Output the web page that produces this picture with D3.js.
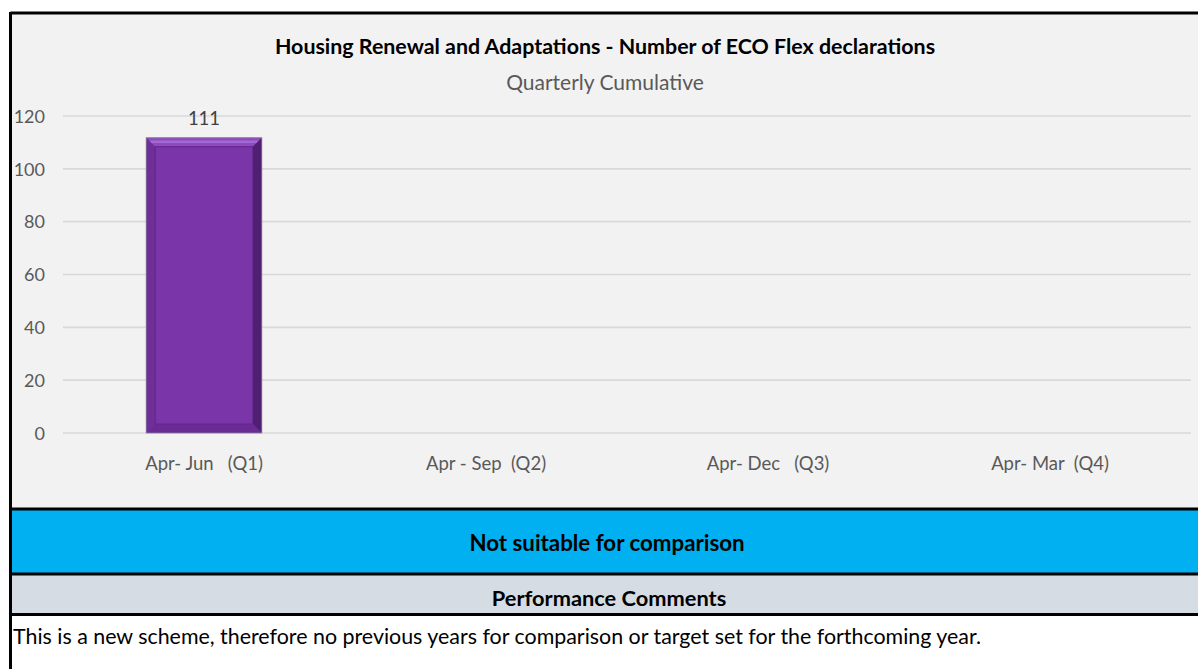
<!DOCTYPE html>
<html><head><meta charset="utf-8">
<script src="https://cdn.jsdelivr.net/npm/d3@7"></script>
<style>
html,body{margin:0;padding:0;background:#fff;}
svg{display:block;font-family:Lato,"Open Sans",sans-serif;}
</style></head>
<body>
<svg id="c" width="1198" height="669"></svg>
<script>
const categories = ["Apr- Jun   (Q1)", "Apr - Sep  (Q2)", "Apr- Dec   (Q3)", "Apr- Mar  (Q4)"];
const values = [111, null, null, null];
const yTicks = [0, 20, 40, 60, 80, 100, 120];
const title = "Housing Renewal and Adaptations - Number of ECO Flex declarations";
const subtitle = "Quarterly Cumulative";
const statusText = "Not suitable for comparison";
const commentsHeader = "Performance Comments";
const commentText = "This is a new scheme, therefore no previous years for comparison or target set for the forthcoming year.";

const svg = d3.select("#c");
const W = 1198, H = 669;
const L = 10.5;

// chart background
svg.append("rect").attr("x", L).attr("y", 13).attr("width", W).attr("height", 496).attr("fill", "#f2f2f2");

const x = d3.scaleBand().domain(categories).range([63, 1191]).paddingInner(0.59).paddingOuter(0.295);
const y = d3.scaleLinear().domain([0, 120]).range([433, 116]);

// gridlines
svg.append("g").selectAll("line").data(yTicks).join("line")
  .attr("x1", 63).attr("x2", 1191)
  .attr("y1", d => y(d)).attr("y2", d => y(d))
  .attr("stroke", "#d9d9d9").attr("stroke-width", 1.6);

// y axis labels
const yAxis = d3.axisLeft(y).tickValues(yTicks).tickSize(0).tickPadding(0);
const ya = svg.append("g").attr("transform", "translate(45,0)").call(yAxis);
ya.select(".domain").remove();
ya.selectAll("text").attr("font-size", 18).attr("fill", "#595959").attr("font-family", "Lato, sans-serif").attr("dy", "0.35em");
ya.selectAll("text").attr("text-anchor", "end");

// x axis labels
const xAxis = d3.axisBottom(x).tickSize(0).tickPadding(0);
const xa = svg.append("g").attr("transform", "translate(0,457)").call(xAxis);
xa.select(".domain").remove();
xa.selectAll("text").attr("font-size", 18.5).attr("fill", "#595959").attr("font-family", "Lato, sans-serif")
  .style("white-space", "pre").attr("xml:space", "preserve");

// bars with bevel
const bw = x.bandwidth();
const bars = svg.append("g").selectAll("g").data(categories.map((c, i) => ({c, v: values[i]})).filter(d => d.v != null)).join("g");
bars.each(function(d) {
  const g = d3.select(this);
  const x0 = x(d.c), x1 = x0 + bw, y0 = y(d.v) - 2, y1 = y(0);
  const b = 9;
  g.append("rect").attr("x", x0).attr("y", y0).attr("width", bw).attr("height", y1 - y0).attr("fill", "#7a36a8");
  // top bevel
  g.append("polygon").attr("points", [[x0, y0], [x1, y0], [x1 - b, y0 + b], [x0 + b, y0 + b]].join(" ")).attr("fill", "#8d4bbd");
  g.append("line").attr("x1", x0 + 4).attr("x2", x1 - 4).attr("y1", y0 + 4).attr("y2", y0 + 4).attr("stroke", "#a468d4").attr("stroke-width", 2.5);
  // left bevel
  g.append("polygon").attr("points", [[x0, y0], [x0 + b, y0 + b], [x0 + b, y1 - b], [x0, y1]].join(" ")).attr("fill", "#6e2f99");
  // right bevel
  g.append("polygon").attr("points", [[x1, y0], [x1, y1], [x1 - b, y1 - b], [x1 - b, y0 + b]].join(" ")).attr("fill", "#4f1f72");
  // bottom bevel
  g.append("polygon").attr("points", [[x0, y1], [x0 + b, y1 - b], [x1 - b, y1 - b], [x1, y1]].join(" ")).attr("fill", "#6a2c94");
  // inner face
  g.append("rect").attr("x", x0 + b).attr("y", y0 + b).attr("width", bw - 2 * b).attr("height", y1 - y0 - 2 * b)
    .attr("fill", "#7a36a8").attr("stroke", "#5f2689").attr("stroke-width", 1);
  g.append("rect").attr("x", x0).attr("y", y0).attr("width", bw).attr("height", y1 - y0)
    .attr("fill", "none").attr("stroke", "#8a7a96").attr("stroke-width", 0.8);
  g.append("text").attr("x", x0 + bw / 2).attr("y", y0 - 13).attr("text-anchor", "middle")
    .attr("font-size", 18.5).attr("fill", "#404040").text(d.v);
});

// titles
svg.append("text").attr("x", 605).attr("y", 54).attr("text-anchor", "middle").attr("font-size", 21.4)
  .attr("font-weight", "bold").attr("fill", "#000").text(title);
svg.append("text").attr("x", 605).attr("y", 90).attr("text-anchor", "middle").attr("font-size", 21)
  .attr("fill", "#595959").text(subtitle);

// status band
svg.append("rect").attr("x", L).attr("y", 509).attr("width", W).attr("height", 65).attr("fill", "#00b0f0");
svg.append("rect").attr("x", L).attr("y", 574).attr("width", W).attr("height", 40).attr("fill", "#d6dce4");
svg.append("text").attr("x", 607).attr("y", 551).attr("text-anchor", "middle").attr("font-size", 22.3)
  .attr("font-weight", "bold").attr("fill", "#000").text(statusText);
svg.append("text").attr("x", 609).attr("y", 606).attr("text-anchor", "middle").attr("font-size", 21.8)
  .attr("font-weight", "bold").attr("fill", "#000").text(commentsHeader);
svg.append("text").attr("x", 13).attr("y", 644).attr("font-size", 21.4).attr("fill", "#000").text(commentText);

// border lines
const lines = [
  [L, 13, W, 13, 3],
  [L, 509, W, 509, 3],
  [L, 574, W, 574, 3],
  [L, 614.5, W, 614.5, 3],
  [L, 12, L, H, 3]
];
svg.append("g").selectAll("line").data(lines).join("line")
  .attr("x1", d => d[0]).attr("y1", d => d[1]).attr("x2", d => d[2]).attr("y2", d => d[3])
  .attr("stroke", "#000").attr("stroke-width", d => d[4]);
</script>
</body></html>
